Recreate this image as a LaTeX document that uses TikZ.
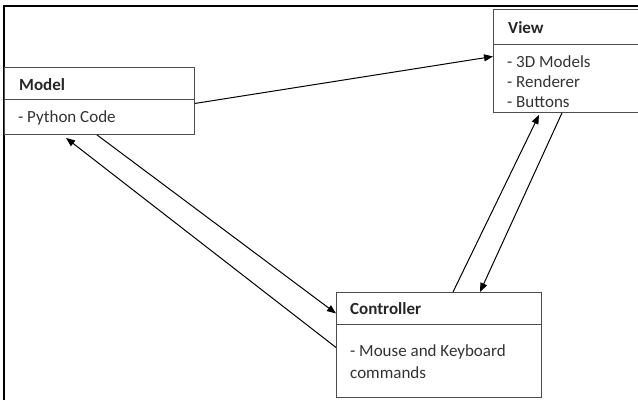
\documentclass[tikz,border=0pt]{standalone}
\usepackage{fontspec}
\setmainfont{Carlito}
\usetikzlibrary{arrows.meta,calc}
\begin{document}
\begin{tikzpicture}[x=1pt,y=-1pt,
  box/.style={draw=black!70,line width=0.9pt,inner sep=0pt,anchor=north west},
  divider/.style={draw=black!70,line width=0.9pt},
  title/.style={anchor=west,inner sep=0pt,text=black!85,font=\fontsize{17}{20}\selectfont\bfseries},
  item/.style={anchor=west,inner sep=0pt,text=black!80,font=\fontsize{17}{20}\selectfont},
  conn/.style={line width=1pt,-{Triangle[length=9pt,width=7pt]}}]
\useasboundingbox (0,0) rectangle (638,400);
% outer frame
\draw[line width=1.6pt] (4,400) -- (4,6);
\draw[line width=2.2pt] (3.2,6) -- (640,6);
% boxes
\node[box,minimum width=190pt,minimum height=67pt] (model) at (4,67) {};
\draw[divider] (4,99) -- (194,99);
\node[box,minimum width=146pt,minimum height=103pt] (view) at (493,9) {};
\draw[divider] (493,44) -- (639,44);
\node[box,minimum width=205pt,minimum height=105pt] (ctrl) at (336,292) {};
\draw[divider] (336,324) -- (541,324);
% texts
\node[title] (modelT) at (19,85) {Model};
\node[item] (modelI) at (18,118) {- Python Code};
\node[title] (viewT) at (508,28) {View};
\node[item] (viewI1) at (507,62) {- 3D Models};
\node[item] (viewI2) at (507,82) {- Renderer};
\node[item] (viewI3) at (507,102) {- Buttons};
\node[title] (ctrlT) at (350,309) {Controller};
\node[item] (ctrlI1) at (350,352) {- Mouse and Keyboard};
\node[item] (ctrlI2) at (350,373) {commands};
% connectors
\draw[conn] ($(model.east)+(0,2.5)$) -- ($(view.west)+(0,-4.5)$);
\draw[conn] ($(model.south west)+(93,0)$) -- ($(ctrl.west)+(0,-31.5)$);
\draw[conn] ($(ctrl.west)+(0,2.5)$) -- ($(model.south west)+(62,3)$);
\draw[conn] ($(ctrl.north west)+(117,0)$) -- ($(view.south west)+(46,2)$);
\draw[conn] ($(view.south west)+(69,0)$) -- ($(ctrl.north west)+(144,0)$);
\end{tikzpicture}
\end{document}
